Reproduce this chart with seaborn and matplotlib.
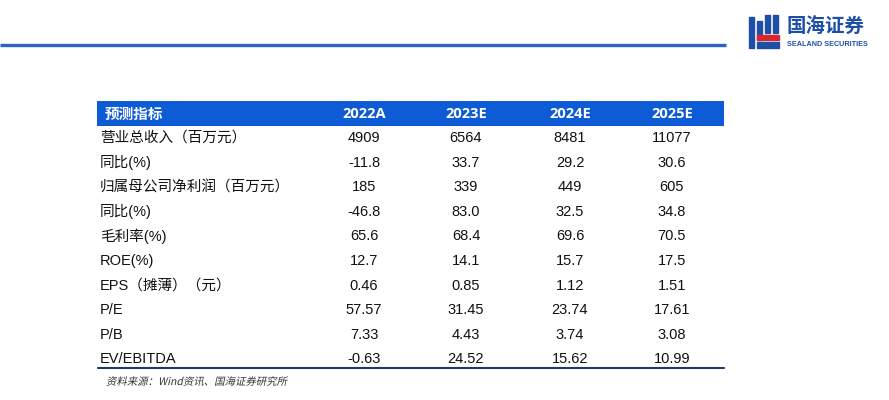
import matplotlib
matplotlib.use("Agg")
import matplotlib.pyplot as plt
import seaborn as sns
from matplotlib.patches import Rectangle, PathPatch
from matplotlib.textpath import TextPath
from matplotlib.font_manager import FontProperties
from matplotlib.transforms import Affine2D

# table content
columns = ["2022A", "2023E", "2024E", "2025E"]
row_labels = ["营业总收入（百万元）", "同比(%)", "归属母公司净利润（百万元）", "同比(%)",
              "毛利率(%)", "ROE(%)", "EPS（摊薄）（元）", "P/E", "P/B", "EV/EBITDA"]
v2022 = ["4909", "-11.8", "185", "-46.8", "65.6", "12.7", "0.46", "57.57", "7.33", "-0.63"]
v2023 = ["6564", "33.7", "339", "83.0", "68.4", "14.1", "0.85", "31.45", "4.43", "24.52"]
v2024 = ["8481", "29.2", "449", "32.5", "69.6", "15.7", "1.12", "23.74", "3.74", "15.62"]
v2025 = ["11077", "30.6", "605", "34.8", "70.5", "17.5", "1.51", "17.61", "3.08", "10.99"]
source = "资料来源：Wind资讯、国海证券研究所"

sns.set_theme(style="white")
plt.rcParams["font.family"] = ["Liberation Sans", "Noto Sans CJK SC", "DejaVu Sans"]

fig = plt.figure(figsize=(8.89, 4.0), dpi=100)
ax = fig.add_axes([0, 0, 1, 1])
ax.set_xlim(0, 889)
ax.set_ylim(400, 0)
ax.axis("off")

# top rule + logo
ax.plot([0, 726], [45, 45], color="#2a62c8", lw=2.4, solid_capstyle="butt")
blue = "#1d4fa8"
ax.add_patch(Rectangle((749, 17), 5, 31, color=blue))
ax.add_patch(Rectangle((757, 21), 5, 19, color=blue))
ax.add_patch(Rectangle((765, 15), 5, 18, color=blue))
ax.add_patch(Rectangle((773, 15), 5, 18, color=blue))
ax.add_patch(Rectangle((757, 35), 22, 5, color="#d7262d"))
ax.add_patch(Rectangle((757, 42), 22, 6, color=blue))
ax.text(787, 27, "国海证券", fontsize=14, color=blue, fontweight="bold",
        family=["Noto Sans CJK SC"], va="center", ha="left")
ax.text(787, 44, "SEALAND SECURITIES", fontsize=5.2, color=blue, fontweight="bold",
        family=["Liberation Sans Narrow", "Liberation Sans"], va="center", ha="left")

# header bar
ax.add_patch(Rectangle((97, 101), 627, 25, color="#0e5bd6", lw=0))
hdr_font = ["Open Sans", "Noto Sans CJK SC"]
ax.text(105, 114, "预测指标", color="white", fontsize=10.5, fontweight="bold",
        family=["Noto Sans CJK SC"], va="center", ha="left")
col_x = [364, 466, 570, 672]
for x, c in zip(col_x, columns):
    ax.text(x, 114, c, color="white", fontsize=10.5, fontweight="bold",
            family=hdr_font, va="center", ha="center")

# body rows
values = [v2022, v2023, v2024, v2025]
for i, lab in enumerate(row_labels):
    y = 138 + i * 24.6
    ax.text(100, y, lab, fontsize=10.5, color="#111111", va="center", ha="left")
    for x, col in zip(col_x, values):
        ax.text(x, y, col[i], fontsize=10.5, color="#111111", va="center", ha="center")

ax.plot([98, 724], [368, 368], color="#1f3a68", lw=1.5)

# source note, slanted by hand since the CJK font has no italic
tp = TextPath((0, 0), source, size=7.5, prop=FontProperties(family="Noto Sans CJK SC"))
k = 100 / 72
tr = Affine2D().skew_deg(12, 0).scale(k, -k).translate(106, 385)
ax.add_patch(PathPatch(tr.transform_path(tp), color="#333333", lw=0))

fig.savefig("out.png", dpi=100, facecolor="white")
